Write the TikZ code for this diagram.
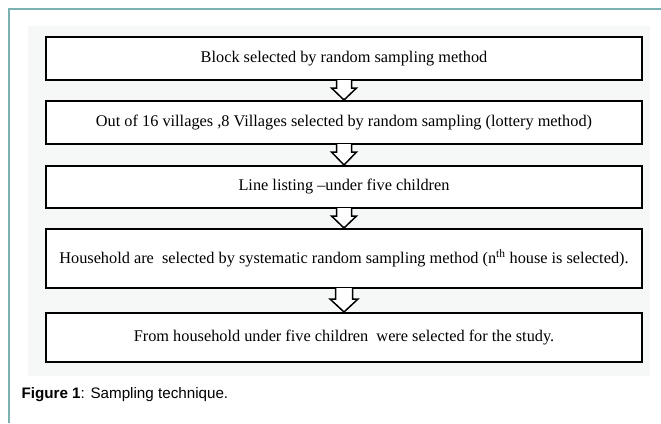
\documentclass[tikz,border=0pt]{standalone}
\usepackage{fontspec}
\setmainfont{Liberation Serif}
\newfontfamily\captionfont{Liberation Sans}
\usetikzlibrary{calc}

\definecolor{frameteal}{HTML}{7AB1B1}
\definecolor{panelgray}{HTML}{F6F8F8}

\tikzset{
  stagebox/.style={draw=black, line width=2pt, fill=white,
    minimum width=596pt, inner sep=0pt,
    font=\fontsize{16.3}{19}\selectfont},
  flowarrow/.style={draw=black, line width=1.5pt, fill=white, line join=miter}
}

% block arrow: from, to, shaft half width, head half width, wing drop
\newcommand{\stagearrow}[5]{%
  \fill[white] ($(#1.south)+(-#3,-1.2)$) rectangle ($(#1.south)+(#3,#5)$);
  \draw[flowarrow] ($(#1.south)+(-#3,-1)$) -- ($(#1.south)+(-#3,#5)$)
    -- ($(#1.south)+(-#4,#5)$) -- (#2.north) -- ($(#1.south)+(#4,#5)$)
    -- ($(#1.south)+(#3,#5)$) -- ($(#1.south)+(#3,-1)$);
}

\begin{document}
\begin{tikzpicture}[x=1pt,y=-1pt]
  \useasboundingbox (0,0) rectangle (661,423);

  % frame and panel
  \draw[frameteal, line width=2pt] (9,423) -- (9,9) -- (661,9);
  \fill[panelgray] (28,26) rectangle (650,376);

  % stages
  \node[stagebox, minimum height=43pt] (block) at (344,58.5)
    {Block selected by random sampling method};
  \node[stagebox, minimum height=43pt] (villages) at (344,122.5)
    {Out of 16 villages ,8 Villages selected by random sampling (lottery method)};
  \node[stagebox, minimum height=42pt] (listing) at (344,187)
    {Line listing --under five children};
  \node[stagebox, minimum height=59pt] (household) at (344,258.5)
    {Household are~ selected by systematic random sampling method (n\textsuperscript{th} house is selected).};
  \node[stagebox, minimum height=49pt] (children) at (344,337.5)
    {From household under five children~ were selected for the study.};

  % arrows
  \stagearrow{block}{villages}{7.5}{12.5}{7}
  \stagearrow{villages}{listing}{7.5}{12.5}{7}
  \stagearrow{listing}{household}{7.5}{12.5}{7}
  \stagearrow{household}{children}{8.5}{14}{10}

  % caption
  \node[anchor=west, font=\captionfont\fontsize{15.2}{17}\selectfont] (caption) at (18,395)
    {\textbf{Figure 1}: Sampling technique.};
\end{tikzpicture}
\end{document}
